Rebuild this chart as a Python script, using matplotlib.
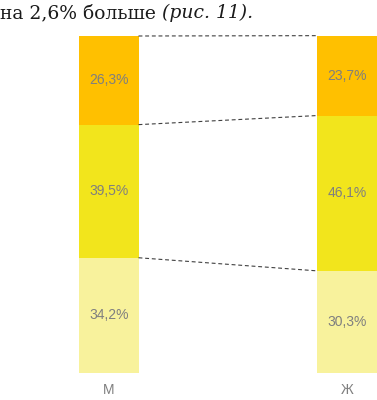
import matplotlib
matplotlib.use('Agg')
from matplotlib import pyplot as plt
import numpy as np

# data
groups = ['М', 'Ж']
bottom_part = [34.2, 30.3]
middle_part = [39.5, 46.1]
top_part = [26.3, 23.7]
layers = [bottom_part, middle_part, top_part]
colors = ['#F8F29C', '#F2E51C', '#FFC000']

fig = plt.figure(figsize=(3.77, 4.0), dpi=100)
ax = fig.add_axes([0, 27/400, 1, 337/400])

x = np.arange(len(groups))
w = 0.248
base = np.zeros(len(groups))
bounds = []
for vals, c in zip(layers, colors):
    vals = np.array(vals)
    ax.bar(x, vals, width=w, bottom=base, color=c, edgecolor='none')
    for xi, b, v in zip(x, base, vals):
        ax.text(xi, b + v / 2, ('%.1f%%' % v).replace('.', ','), ha='center', va='center',
                color='#7F7F7F', fontsize=10, family='Liberation Sans')
    base = base + vals
    bounds.append(base.copy())

# dashed connectors between bars
for b in bounds:
    ax.plot([x[0] + w / 2, x[1] - w / 2], [b[0], b[1]], color='#404040',
            linestyle=(0, (3.5, 2.5)), linewidth=0.8, clip_on=False)

ax.set_xlim(-109/238, (377 - 109)/238)
ax.set_ylim(0, 100)
ax.set_xticks(x)
ax.set_xticklabels(groups, color='#7F7F7F', fontsize=10, family='Liberation Sans')
ax.tick_params(axis='x', length=0, pad=7)
ax.set_yticks([])
for s in ax.spines.values():
    s.set_visible(False)
ax.patch.set_alpha(0)

# caption fragment from the document
t1 = fig.text(0.0, 1 - 13/400, 'на 2,6% больше ', fontsize=13.5, family='DejaVu Serif',
              va='center', ha='left', color='#1a1a1a')
fig.canvas.draw()
bb = t1.get_window_extent()
fig.text(bb.x1 / fig.bbox.width, 1 - 13/400, '(рис. 11).', fontsize=13.5, family='DejaVu Serif',
         style='italic', va='center', ha='left', color='#1a1a1a')

fig.savefig('out.png', dpi=100)
